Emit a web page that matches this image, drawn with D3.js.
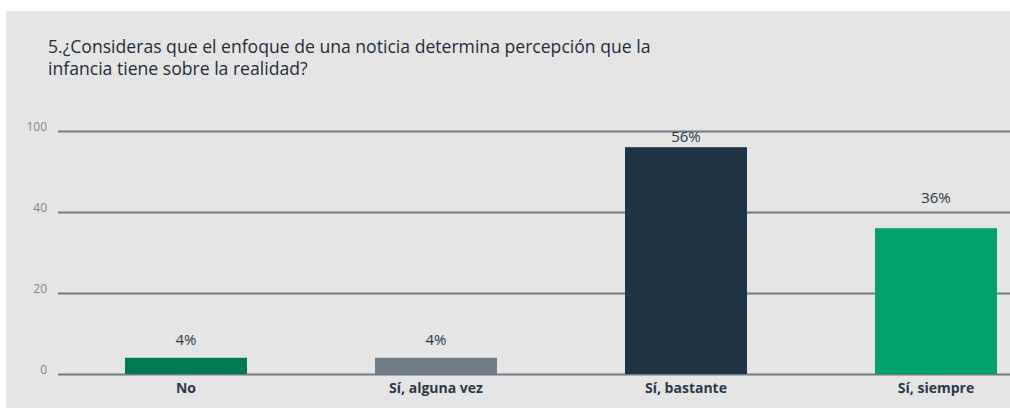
<!DOCTYPE html>
<html lang="es">
<head>
  <meta charset="UTF-8"/>
  <title>Enfoque de una noticia</title>
  <script src="https://cdn.jsdelivr.net/npm/d3@7"></script>
  <style>
    body { margin: 0; background: #fff; font-family: "Open Sans", sans-serif; }
  </style>
</head>
<body>
<script>

// data
var categories = ["No", "Sí, alguna vez", "Sí, bastante", "Sí, siempre"];
var values     = [4, 4, 56, 36];
var tickValues = [0, 20, 40, 60];
var tickLabels = ["0", "20", "40", "100"];   // as printed on the original
var titleLines = ["5.¿Consideras que el enfoque de una noticia determina percepción que la",
                  "infancia tiene sobre la realidad?"];

var colors = ["#007a53", "#707d89", "#1e3344", "#00a36c"];
var labelGap = [13, 13, 5, 25];

var W = 1010, H = 408;
var svg = d3.select("body").append("svg").attr("width", W).attr("height", H);

// background panel
svg.append("rect").attr("x", 6).attr("y", 11).attr("width", W - 6).attr("height", H - 11)
    .attr("fill", "#e5e5e5");

// title
svg.append("text")
    .attr("x", 48).attr("y", 53)
    .attr("fill", "#1f2d3a")
    .style("font-size", "17.6px")
    .style("font-weight", 500)
    .selectAll("tspan").data(titleLines).enter().append("tspan")
      .attr("x", 48).attr("dy", function(d, i) { return i ? 22 : 0; })
      .text(function(d) { return d; });

// scales
var y = d3.scaleLinear().domain([0, 60]).range([374, 131]);
var x = d3.scaleBand().domain(categories).range([61, 1061])
    .paddingInner(0.512).paddingOuter(0.256);

// grid
var grid = svg.append("g").attr("transform", "translate(58,0)")
    .call(d3.axisLeft(y).tickValues(tickValues).tickSize(-(W - 58)).tickFormat(""));
grid.select(".domain").remove();
grid.selectAll("line").attr("stroke", "#6e7b87").attr("stroke-width", 2);

// tick labels
svg.append("g").selectAll("text").data(tickValues).enter().append("text")
    .attr("x", 47).attr("y", function(d) { return y(d) - 4; })
    .attr("dy", "0.35em")
    .attr("text-anchor", "end")
    .attr("fill", "#7b8894")
    .style("font-size", "12px")
    .text(function(d, i) { return tickLabels[i]; });

// bars
svg.append("g").selectAll("rect").data(values).enter().append("rect")
    .attr("x", function(d, i) { return x(categories[i]); })
    .attr("y", function(d) { return y(d); })
    .attr("width", x.bandwidth())
    .attr("height", function(d) { return y(0) - y(d); })
    .attr("fill", function(d, i) { return colors[i]; });

// value labels
svg.append("g").selectAll("text").data(values).enter().append("text")
    .attr("x", function(d, i) { return x(categories[i]) + x.bandwidth() / 2; })
    .attr("y", function(d, i) { return y(d) - labelGap[i]; })
    .attr("text-anchor", "middle")
    .attr("fill", "#2b3947")
    .style("font-size", "15px")
    .text(function(d) { return d + "%"; });

// category labels
svg.append("g").selectAll("text").data(categories).enter().append("text")
    .attr("x", function(d) { return x(d) + x.bandwidth() / 2; })
    .attr("y", 393)
    .attr("text-anchor", "middle")
    .attr("fill", "#2b3947")
    .style("font-size", "14px")
    .style("font-weight", "bold")
    .text(function(d) { return d; });

</script>
</body>
</html>
